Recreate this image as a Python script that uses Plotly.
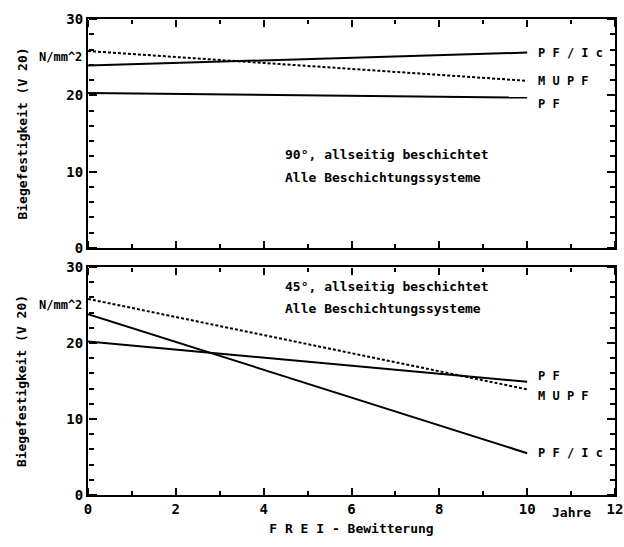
import plotly.graph_objects as go

years = [0, 10]
top_pfic = [23.9, 25.6]
top_mupf = [25.8, 21.9]
top_pf = [20.3, 19.7]
bot_pfic = [23.8, 5.5]
bot_mupf = [25.8, 13.9]
bot_pf = [20.2, 14.9]
x_tick_step = 2
y_tick_step = 10

FONT = "DejaVu Sans Mono, monospace"
DOM_TOP = [0.519, 1.0]
DOM_BOT = [0.0, 0.479]

fig = go.Figure()

def add(xa, ya, y, dash):
    fig.add_trace(go.Scatter(x=years, y=y, mode="lines", xaxis=xa, yaxis=ya,
                             line=dict(color="black", width=2, dash=dash),
                             showlegend=False, hoverinfo="skip"))

add("x", "y", top_pfic, "solid"); add("x", "y", top_mupf, "3px,2px"); add("x", "y", top_pf, "solid")
add("x2", "y2", bot_pfic, "solid"); add("x2", "y2", bot_mupf, "3px,2px"); add("x2", "y2", bot_pf, "solid")

# invisible carrier traces so the tick-only overlay axes are drawn
def carrier(xa, ya, y):
    fig.add_trace(go.Scatter(x=years, y=y, mode="lines", xaxis=xa, yaxis=ya,
                             line=dict(color="rgba(0,0,0,0)", width=0),
                             showlegend=False, hoverinfo="skip"))
carrier("x3", "y3", top_pf); carrier("x4", "y4", top_pf)
carrier("x5", "y5", bot_pf); carrier("x6", "y6", bot_pf)

def xmain(anchor, show_labels):
    return dict(range=[0, 12], domain=[0, 1], anchor=anchor, tickmode="linear", tick0=0,
                dtick=x_tick_step, showticklabels=show_labels,
                showline=True, linecolor="black", linewidth=2, mirror=True,
                ticks="", showgrid=False, zeroline=False, automargin=False,
                tickfont=dict(family=FONT, size=14, color="black", weight="bold"))

def ymain(anchor, domain):
    return dict(range=[0, 30], domain=domain, anchor=anchor, tickmode="linear", tick0=0,
                dtick=y_tick_step, showline=True, linecolor="black", linewidth=2, mirror=True,
                ticks="", showgrid=False, zeroline=False, automargin=False,
                tickfont=dict(family=FONT, size=14, color="black", weight="bold"))

def xticks(over, side, pos):
    return dict(range=[0, 12], overlaying=over, anchor="free", position=pos, side=side,
                tickmode="linear", tick0=0, dtick=x_tick_step, showticklabels=False,
                ticks="outside", ticklen=7, tickwidth=1.5, tickcolor="black",
                minor=dict(dtick=1, ticks="outside", ticklen=4, tickwidth=1.5, tickcolor="black"),
                showline=False, showgrid=False, zeroline=False, automargin=False)

def yticks(over, side, pos):
    return dict(range=[0, 30], overlaying=over, anchor="free", position=pos, side=side,
                tickmode="linear", tick0=0, dtick=y_tick_step, showticklabels=False,
                ticks="outside", ticklen=8, tickwidth=1.5, tickcolor="black",
                minor=dict(dtick=2, ticks="outside", ticklen=5, tickwidth=1.5, tickcolor="black"),
                showline=False, showgrid=False, zeroline=False, automargin=False)

fig.update_layout(
    width=624, height=547,
    margin=dict(l=88, r=9, t=19, b=52),
    paper_bgcolor="white", plot_bgcolor="white",
    xaxis=xmain("y", False), yaxis=ymain("x", DOM_TOP),
    xaxis2=xmain("y2", True), yaxis2=ymain("x2", DOM_BOT),
    xaxis3=xticks("x", "top", DOM_TOP[0]), yaxis3=yticks("y", "right", 0),
    xaxis4=xticks("x", "bottom", DOM_TOP[1]), yaxis4=yticks("y", "left", 1),
    xaxis5=xticks("x2", "top", DOM_BOT[0]), yaxis5=yticks("y2", "right", 0),
    xaxis6=xticks("x2", "bottom", DOM_BOT[1]), yaxis6=yticks("y2", "left", 1),
)
fig.update_layout(xaxis2_title=dict(text="<b>F R E I - Bewitterung</b>",
                                    font=dict(family=FONT, size=13, color="black"),
                                    standoff=8))

ann = []
def txt(x, y, text, xref, yref, size=13, xanchor="left", angle=0):
    ann.append(dict(x=x, y=y, xref=xref, yref=yref, text=text, showarrow=False,
                    xanchor=xanchor, yanchor="middle", textangle=angle,
                    font=dict(family=FONT, size=size, color="black")))

txt(-0.125, 0.5, "<b>Biegefestigkeit (V 20)</b>", "x domain", "y domain", size=13, xanchor="center", angle=-90)
txt(-0.125, 0.5, "<b>Biegefestigkeit (V 20)</b>", "x2 domain", "y2 domain", size=13, xanchor="center", angle=-90)
txt(-0.008, 25.0, "<b>N/mm^2</b>", "x domain", "y", size=12, xanchor="right")
txt(-0.008, 25.0, "<b>N/mm^2</b>", "x2 domain", "y2", size=12, xanchor="right")
txt(10.2, 25.6, "<b>P F / I c</b>", "x", "y", size=12)
txt(10.2, 21.9, "<b>M U P F</b>", "x", "y", size=12)
txt(10.2, 18.9, "<b>P F</b>", "x", "y", size=12)
txt(10.2, 15.7, "<b>P F</b>", "x2", "y2", size=12)
txt(10.2, 13.0, "<b>M U P F</b>", "x2", "y2", size=12)
txt(10.2, 5.5, "<b>P F / I c</b>", "x2", "y2", size=12)
txt(4.45, 12.2, "<b>90°, allseitig beschichtet</b>", "x", "y", size=13)
txt(4.45, 9.2, "<b>Alle Beschichtungssysteme</b>", "x", "y", size=13)
txt(4.45, 27.4, "<b>45°, allseitig beschichtet</b>", "x2", "y2", size=13)
txt(4.45, 24.5, "<b>Alle Beschichtungssysteme</b>", "x2", "y2", size=13)
ann.append(dict(x=11, y=0, xref="x2", yref="y2 domain", yshift=-17, text="<b>Jahre</b>",
                showarrow=False, yanchor="middle",
                font=dict(family=FONT, size=13, color="black")))
fig.update_layout(annotations=ann)

fig.add_shape(type="rect", xref="x2", yref="y2", x0=3.38, x1=3.52, y0=-0.3, y1=0.3,
              fillcolor="white", line=dict(width=0), layer="above")

fig.write_html("out.html", config={"displayModeBar": False},
               post_script="document.body.style.margin='0px';document.body.style.overflow='hidden';")
